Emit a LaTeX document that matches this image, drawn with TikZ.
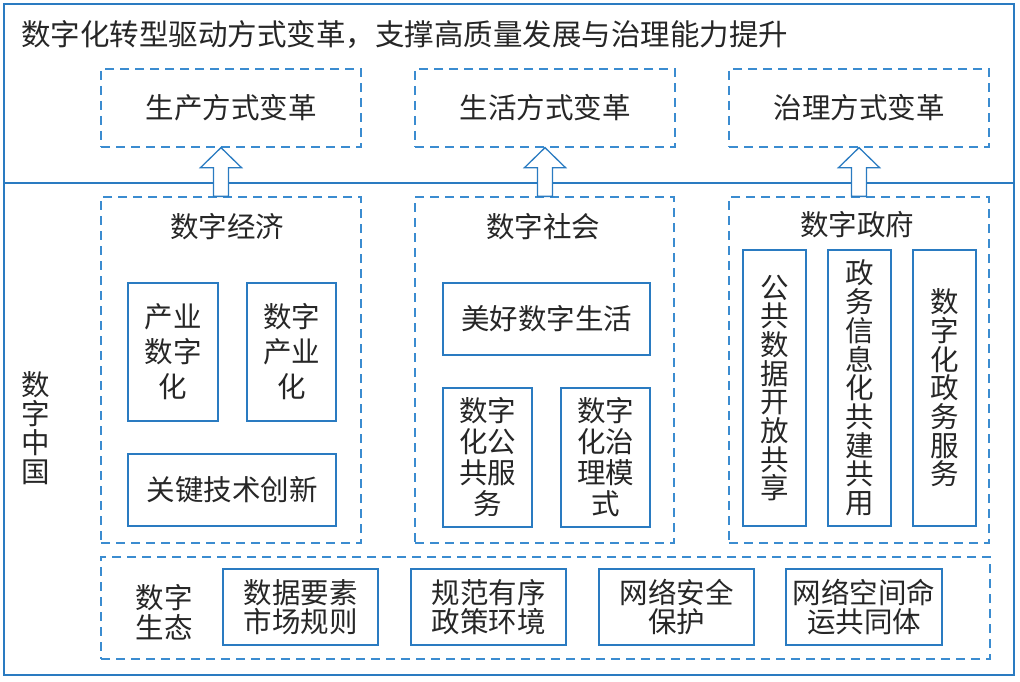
\documentclass[tikz,border=0pt]{standalone}
\usepackage{fontspec}
\setmainfont{Noto Sans CJK SC}
\usetikzlibrary{calc}
\definecolor{lineblue}{HTML}{2A7BC1}
\definecolor{dashblue}{HTML}{3B8CD0}
\definecolor{inkgray}{HTML}{262626}

\begin{document}
\begin{tikzpicture}[x=1pt,y=-1pt]
\tikzset{
  frame/.style={draw=lineblue,line width=1.8pt},
  dbox/.style={draw=dashblue,line width=1.3pt,dash pattern=on 9pt off 6pt,inner sep=0pt,text=inkgray,font=\fontsize{28.5}{30}\selectfont},
  sbox/.style={draw=lineblue,line width=1.3pt,inner sep=0pt,align=center,text=inkgray,font=\fontsize{28.5}{31}\selectfont},
  lbl/.style={inner sep=0pt,align=center,text=inkgray,font=\fontsize{28.5}{29}\selectfont},
  up/.style={draw=lineblue,line width=1.3pt,fill=white}
}
\useasboundingbox (0,0) rectangle (1020,682);

\path (509,339.5) node[frame,minimum width=1010,minimum height=671] (fr) {};
\draw[frame] (4,183) -- (1014,183);
\path (21,35) node[lbl,anchor=west,font=\fontsize{29.5}{30}\selectfont] (title) {数字化转型驱动方式变革，支撑高质量发展与治理能力提升};

\path (231,108) node[dbox,minimum width=260,minimum height=78] (tb1) {生产方式变革};
\path (545,108) node[dbox,minimum width=260,minimum height=78] (tb2) {生活方式变革};
\path (859,108) node[dbox,minimum width=260,minimum height=78] (tb3) {治理方式变革};

\path (36,428) node[lbl] (china) {数\\字\\中\\国};

\path (231,370) node[dbox,minimum width=260,minimum height=346] (ec) {};
\path (544.5,370) node[dbox,minimum width=259,minimum height=346] (so) {};
\path (859,370) node[dbox,minimum width=260,minimum height=346] (go) {};
\path (227,227) node[lbl] (ect) {数字经济};
\path (543,227) node[lbl] (sot) {数字社会};
\path (857,225) node[lbl] (got) {数字政府};

\path (173,352) node[sbox,minimum width=90,minimum height=138,font=\fontsize{28.5}{35}\selectfont] (e1) {产业\\数字\\化};
\path (291.5,352) node[sbox,minimum width=89,minimum height=138,font=\fontsize{28.5}{35}\selectfont] (e2) {数字\\产业\\化};
\path (232,490) node[sbox,minimum width=208,minimum height=72] (e3) {关键技术创新};

\path (546.5,319) node[sbox,minimum width=207,minimum height=72] (s1) {美好数字生活};
\path (487.5,457.5) node[sbox,minimum width=89,minimum height=139] (s2) {数字\\化公\\共服\\务};
\path (605.5,457.5) node[sbox,minimum width=89,minimum height=139] (s3) {数字\\化治\\理模\\式};

\path (774.5,388) node[sbox,minimum width=63,minimum height=276,font=\fontsize{28.5}{28.7}\selectfont] (g1) {公\\共\\数\\据\\开\\放\\共\\享};
\path (859.5,388) node[sbox,minimum width=63,minimum height=276,font=\fontsize{28.5}{28.7}\selectfont] (g2) {政\\务\\信\\息\\化\\共\\建\\共\\用};
\path (944.5,388) node[sbox,minimum width=63,minimum height=276,font=\fontsize{28.5}{28.7}\selectfont] (g3) {数\\字\\化\\政\\务\\服\\务};

\path (545.5,608) node[dbox,minimum width=889,minimum height=102] (eco) {};
\path (164,612) node[lbl,font=\fontsize{28.5}{30}\selectfont] (ecot) {数字\\生态};
\path (300.5,607) node[sbox,minimum width=155,minimum height=76,font=\fontsize{28.5}{29}\selectfont] (b1) {数据要素\\市场规则};
\path (488.5,607) node[sbox,minimum width=155,minimum height=76,font=\fontsize{28.5}{29}\selectfont] (b2) {规范有序\\政策环境};
\path (676.5,607) node[sbox,minimum width=155,minimum height=76,font=\fontsize{28.5}{29}\selectfont] (b3) {网络安全\\保护};
\path (864,607) node[sbox,minimum width=156,minimum height=76,font=\fontsize{28.5}{29}\selectfont] (b4) {网络空间命\\运共同体};

\foreach \lo/\hi/\dx in {ec/tb1/-10,so/tb2/0,go/tb3/0}
  \path[up] let \p1=($(\hi.south)+(\dx,0)$), \p2=(\lo.north) in
    (\x1-7.5pt,\y2) -- (\x1-7.5pt,\y1-20pt) -- (\x1-20.5pt,\y1-20pt) -- (\x1,\y1)
    -- (\x1+20.5pt,\y1-20pt) -- (\x1+7.5pt,\y1-20pt) -- (\x1+7.5pt,\y2) -- cycle;
\end{tikzpicture}
\end{document}
